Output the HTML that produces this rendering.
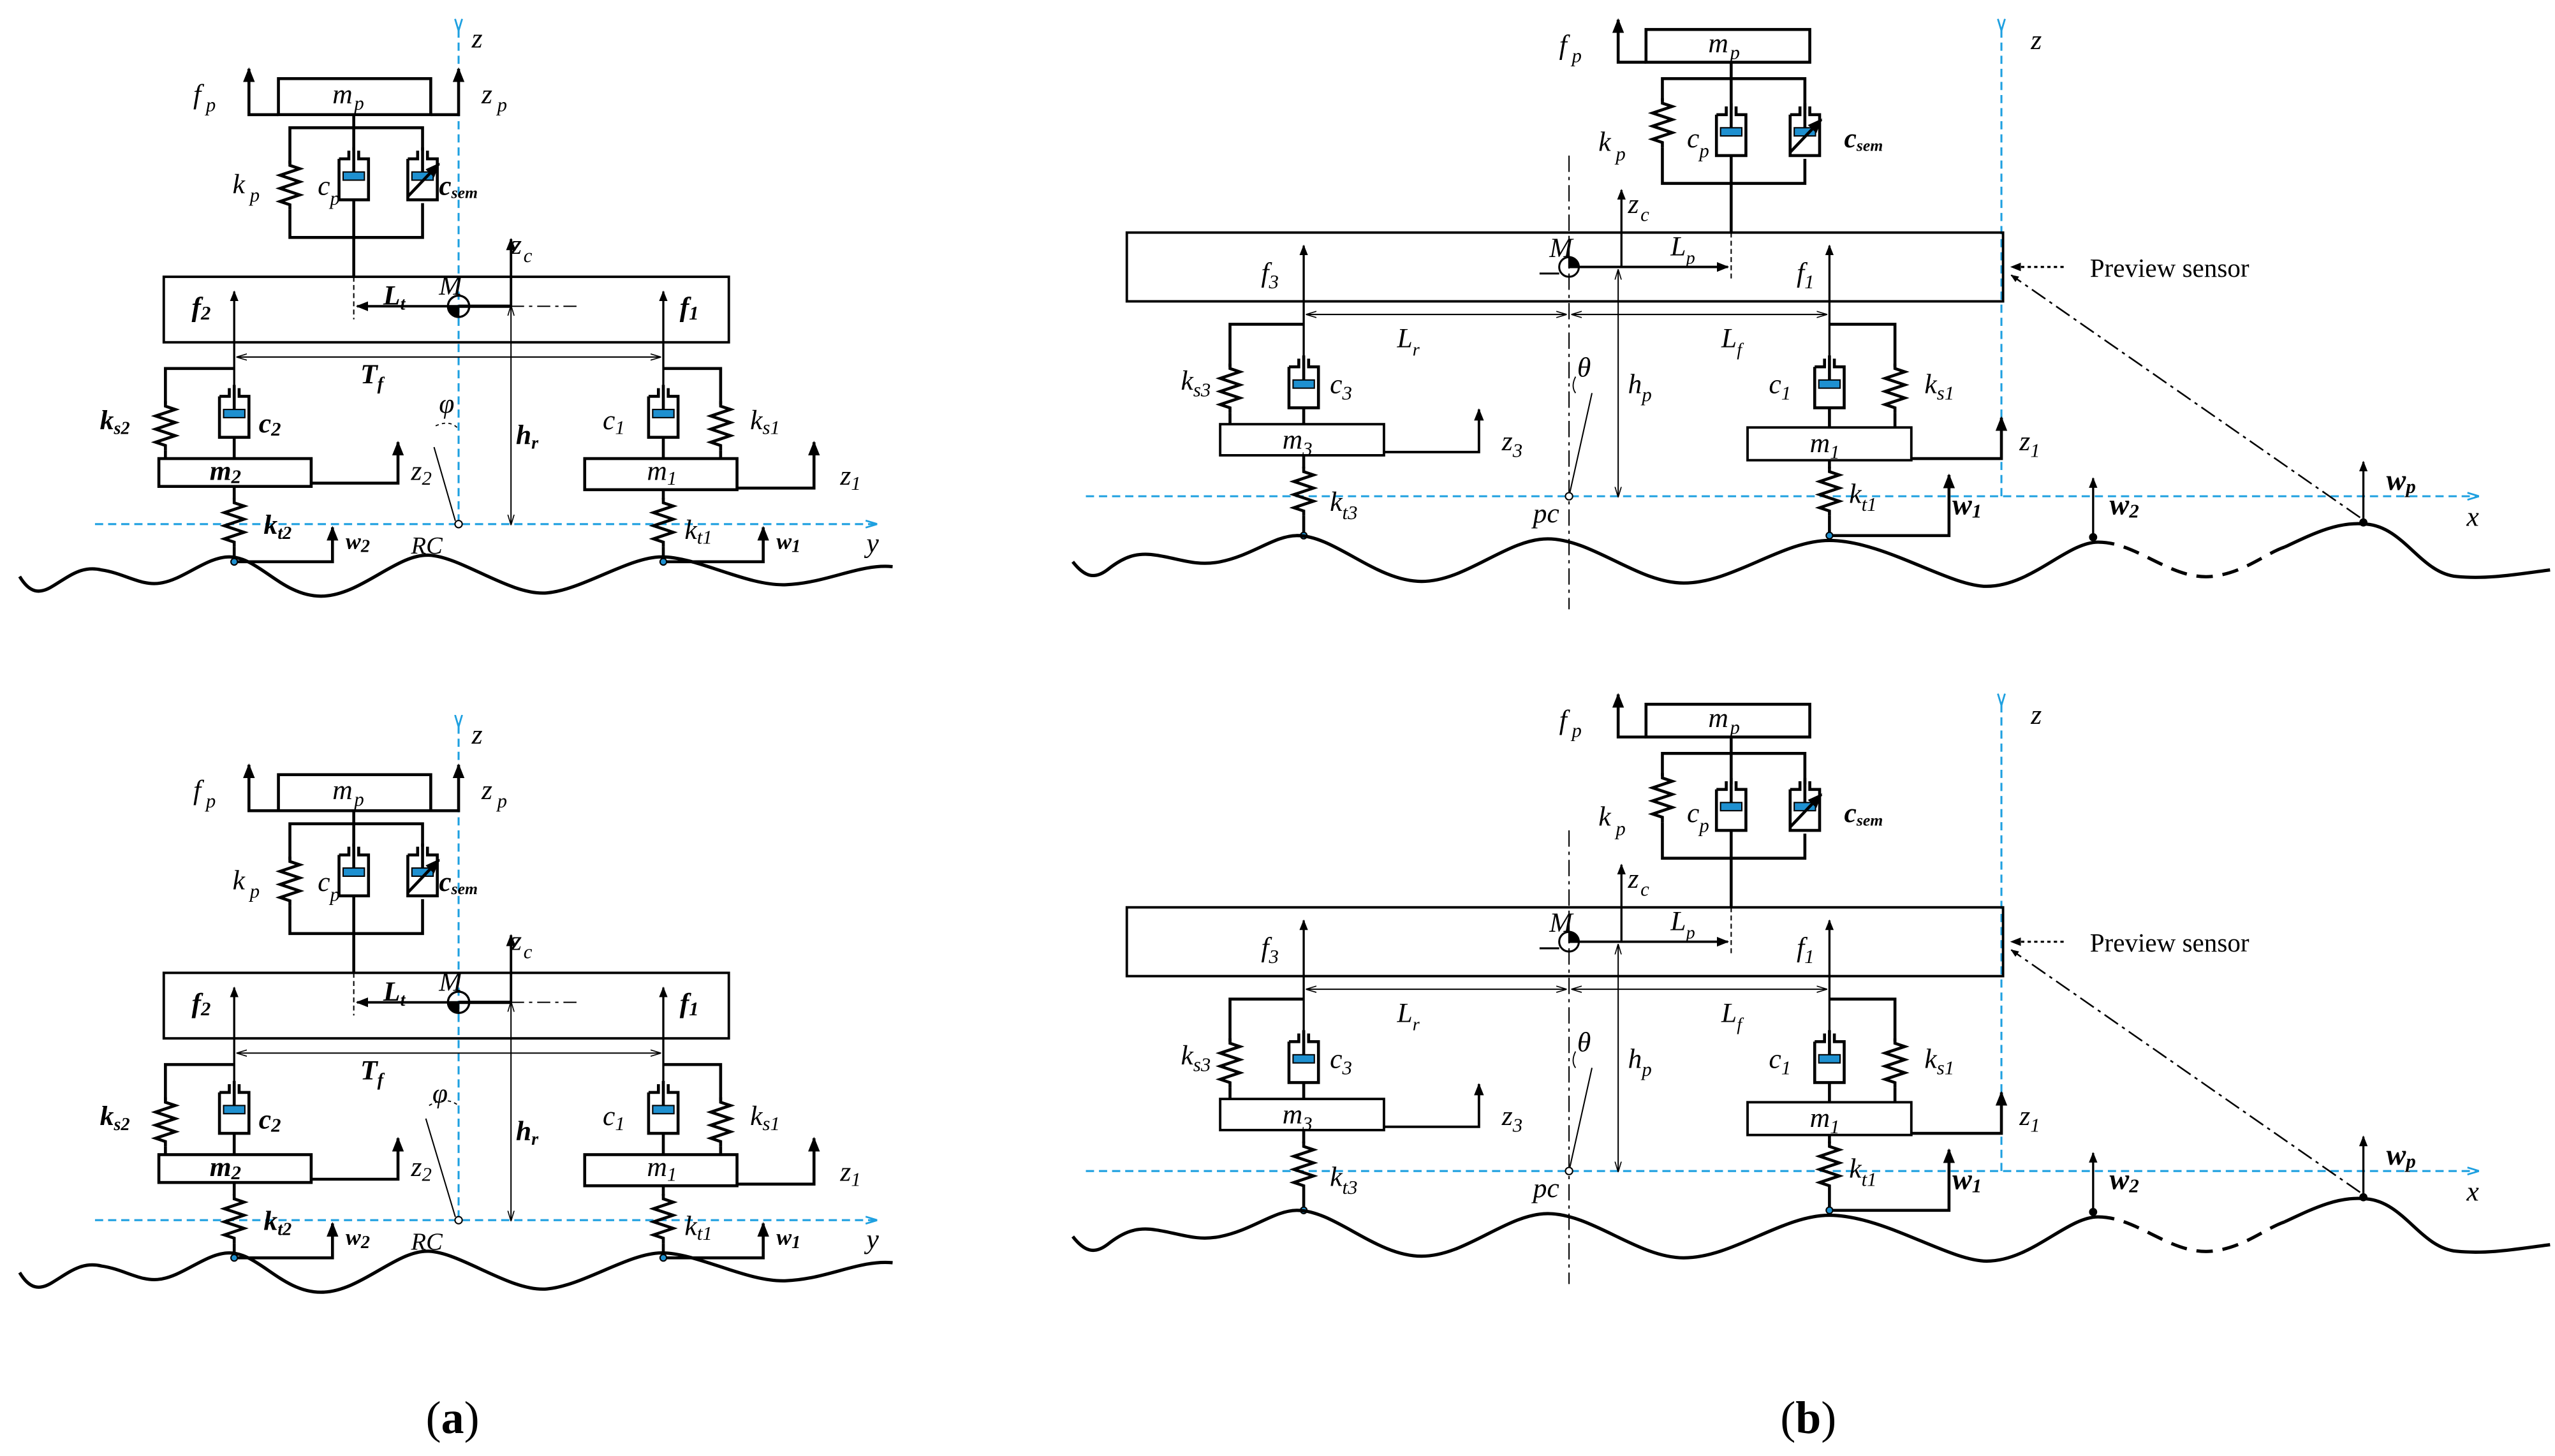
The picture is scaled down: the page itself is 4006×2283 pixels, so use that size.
<!DOCTYPE html>
<html><head><meta charset="utf-8"><style>
html,body{margin:0;padding:0;background:#fff}
svg{display:block}
text{font-family:"Liberation Serif",serif;font-style:italic;fill:#000}
.b{font-weight:bold}
</style></head><body>
<svg width="4006" height="2283" viewBox="0 0 1560 889" preserveAspectRatio="none" xmlns="http://www.w3.org/2000/svg">
<defs>
<marker id="ar" viewBox="0 0 10 10" refX="9" refY="5" markerWidth="5" markerHeight="5" orient="auto-start-reverse"><path d="M0,1 L10,5 L0,9 Z" fill="#000"/></marker>
<marker id="as" viewBox="0 0 10 10" refX="9" refY="5" markerWidth="8" markerHeight="8" orient="auto-start-reverse"><path d="M0,2 L10,5 L0,8" fill="none" stroke="#000" stroke-width="1"/></marker>
<marker id="ab" viewBox="0 0 10 10" refX="9" refY="5" markerWidth="6" markerHeight="6" orient="auto"><path d="M0,2 L10,5 L0,8" fill="none" stroke="#1ea0e0" stroke-width="1.5"/></marker>
<g id="spr"><path d="M0,0 L0,3 L6,5 L-6,9 L6,13 L-6,17 L6,21 L-6,25 L0,27 L0,30" fill="none" stroke="#000" stroke-width="1.8"/></g>
<g id="dmp"><path d="M-9,5 L-9,30 L9,30 L9,5 L3,5 L3,0 M-3,0 L-3,5 L-9,5" fill="none" stroke="#000" stroke-width="1.8"/><line x1="0" y1="-2" x2="0" y2="14" stroke="#000" stroke-width="1.8"/><rect x="-6.5" y="13" width="13" height="5" fill="#1e90d0" stroke="#000" stroke-width="0.8"/></g>
<g id="dms"><use href="#dmp"/><line x1="-9" y1="28" x2="10" y2="8" stroke="#000" stroke-width="1.8" marker-end="url(#ar)"/></g>
</defs>

<!-- LEFT PANEL -->
<g stroke="#000" fill="none">
<line x1="280" y1="18" x2="280" y2="320" stroke="#1ea0e0" stroke-width="1.2" stroke-dasharray="5,3" marker-start="url(#ab)"/>
<line x1="58" y1="320" x2="535" y2="320" stroke="#1ea0e0" stroke-width="1.2" stroke-dasharray="5,3" marker-end="url(#ab)"/>
<rect x="170" y="48" width="93" height="22" stroke-width="1.8"/>
<path d="M170,70 L152,70 L152,42" stroke-width="1.8" marker-end="url(#ar)"/>
<path d="M263,70 L280,70 L280,42" stroke-width="1.8" marker-end="url(#ar)"/>
<line x1="216" y1="70" x2="216" y2="92" stroke-width="1.8"/>
<path d="M177,100 L177,78 L258,78 L258,92" stroke-width="1.8"/>
<use href="#spr" x="177" y="98"/>
<path d="M177,128 L177,145 L258,145 L258,124" stroke-width="1.8"/>
<use href="#dmp" x="216" y="92"/>
<use href="#dms" x="258" y="92"/>
<line x1="216" y1="122" x2="216" y2="169" stroke-width="1.8"/>
<rect x="100" y="169" width="345" height="40" stroke-width="1.5"/>
<line x1="216" y1="169" x2="216" y2="195" stroke-width="0.8" stroke-dasharray="3,2"/>
<line x1="280" y1="187" x2="218" y2="187" stroke-width="1.5" marker-end="url(#ar)"/>
<line x1="280" y1="187" x2="312" y2="187" stroke-width="2"/>
<line x1="312" y1="187" x2="352" y2="187" stroke-width="0.8" stroke-dasharray="8,3,2,3"/>
<circle cx="280" cy="187" r="6.5" stroke-width="1.3"/>
<path d="M274,187 A6,6 0 0 0 280,193 L280,187 Z" fill="#000"/>
<line x1="312" y1="187" x2="312" y2="146" stroke-width="1.5" marker-end="url(#ar)"/>
<line x1="312" y1="187" x2="312" y2="320" stroke-width="0.8" marker-start="url(#as)" marker-end="url(#as)"/>
<line x1="143" y1="238" x2="143" y2="178" stroke-width="1.3" marker-end="url(#ar)"/>
<line x1="405" y1="238" x2="405" y2="178" stroke-width="1.3" marker-end="url(#ar)"/>
<line x1="145" y1="218" x2="403" y2="218" stroke-width="0.8" marker-start="url(#as)" marker-end="url(#as)"/>
<path d="M101,247 L101,225 L143,225" stroke-width="1.8"/>
<use href="#spr" x="101" y="245"/>
<line x1="101" y1="275" x2="101" y2="280" stroke-width="1.8"/>
<use href="#dmp" x="143" y="237"/>
<line x1="143" y1="267" x2="143" y2="280" stroke-width="1.8"/>
<rect x="97" y="280" width="93" height="17" stroke-width="1.8"/>
<path d="M190,295 L243,295 L243,270" stroke-width="1.8" marker-end="url(#ar)"/>
<line x1="143" y1="297" x2="143" y2="305" stroke-width="1.8"/>
<use href="#spr" x="143" y="304"/>
<path d="M143,334 L143,343 L203,343 L203,322" stroke-width="1.8" marker-end="url(#ar)"/>
<circle cx="143" cy="343" r="2" fill="#1e90d0" stroke-width="0.8"/>
<path d="M440,247 L440,225 L405,225" stroke-width="1.8"/>
<use href="#spr" x="440" y="245"/>
<line x1="440" y1="275" x2="440" y2="280" stroke-width="1.8"/>
<use href="#dmp" x="405" y="237"/>
<line x1="405" y1="267" x2="405" y2="280" stroke-width="1.8"/>
<rect x="357" y="280" width="93" height="19" stroke-width="1.8"/>
<path d="M450,298 L497,298 L497,270" stroke-width="1.8" marker-end="url(#ar)"/>
<line x1="405" y1="299" x2="405" y2="305" stroke-width="1.8"/>
<use href="#spr" x="405" y="304"/>
<path d="M405,334 L405,343 L466,343 L466,322" stroke-width="1.8" marker-end="url(#ar)"/>
<circle cx="405" cy="343" r="2" fill="#1e90d0" stroke-width="0.8"/>
<line x1="265" y1="273" x2="278" y2="318" stroke-width="0.8"/>
<path d="M266,260 Q275,256 280,262" stroke-width="0.7" stroke-dasharray="2,2"/>
<circle cx="280" cy="320" r="2.2" fill="#fff" stroke-width="0.8"/>
<path d="M12,352 C18,362 24,363 32,358 C42,352 50,345 62,348 C76,350 86,358 98,356 C112,354 126,340 140,340 C158,340 172,364 196,364 C220,364 242,338 262,339 C282,340 312,364 334,362 C356,360 384,340 404,340 C426,340 456,358 480,357 C505,356 525,344 545,346" stroke-width="2"/>
</g>
<g font-size="17">
<text x="288" y="29">z</text>
<text x="118" y="63">f<tspan font-size="12" dy="5" dx="3">p</tspan></text>
<text x="294" y="63">z<tspan font-size="12" dy="5" dx="3">p</tspan></text>
<text x="203" y="63">m<tspan font-size="12" dy="4" dx="1">p</tspan></text>
<text x="142" y="118">k<tspan font-size="12" dy="5" dx="3">p</tspan></text>
<text x="194" y="119">c<tspan font-size="12" dy="6" dx="0">p</tspan></text>
<text x="268" y="119" class="b">c<tspan font-size="10" dy="2">sem</tspan></text>
<text x="312" y="155">z<tspan font-size="12" dy="5" dx="1">c</tspan></text>
<text x="268" y="180">M</text>
<text x="234" y="186" class="b">L<tspan font-size="11" dy="3">t</tspan></text>
<text x="117" y="193" class="b">f<tspan font-size="12" dy="2">2</tspan></text>
<text x="415" y="193" class="b">f<tspan font-size="12" dy="2">1</tspan></text>
<text x="220" y="234" class="b">T<tspan font-size="11" dy="4">f</tspan></text>
<text x="268" y="252">φ</text>
<text x="315" y="271" class="b">h<tspan font-size="11" dy="3">r</tspan></text>
<text x="61" y="262" class="b">k<tspan font-size="11" dy="3">s2</tspan></text>
<text x="158" y="264" class="b">c<tspan font-size="12" dy="2">2</tspan></text>
<text x="128" y="293" class="b">m<tspan font-size="12" dy="2">2</tspan></text>
<text x="251" y="293">z<tspan font-size="12" dy="3">2</tspan></text>
<text x="161" y="326" class="b">k<tspan font-size="11" dy="3">t2</tspan></text>
<text x="211" y="335" class="b" font-size="14">w<tspan font-size="11" dy="2">2</tspan></text>
<text x="251" y="338" font-size="15">RC</text>
<text x="368" y="262">c<tspan font-size="12" dy="3">1</tspan></text>
<text x="458" y="262">k<tspan font-size="12" dy="3">s1</tspan></text>
<text x="395" y="293">m<tspan font-size="12" dy="3">1</tspan></text>
<text x="513" y="296">z<tspan font-size="12" dy="3">1</tspan></text>
<text x="418" y="329">k<tspan font-size="12" dy="3">t1</tspan></text>
<text x="474" y="335" class="b" font-size="14">w<tspan font-size="11" dy="2">1</tspan></text>
<text x="529" y="337">y</text>
</g>

<!-- LEFT BOTTOM COPY -->
<g transform="translate(0,425)">
<g stroke="#000" fill="none">
<line x1="280" y1="18" x2="280" y2="320" stroke="#1ea0e0" stroke-width="1.2" stroke-dasharray="5,3" marker-start="url(#ab)"/>
<line x1="58" y1="320" x2="535" y2="320" stroke="#1ea0e0" stroke-width="1.2" stroke-dasharray="5,3" marker-end="url(#ab)"/>
<rect x="170" y="48" width="93" height="22" stroke-width="1.8"/>
<path d="M170,70 L152,70 L152,42" stroke-width="1.8" marker-end="url(#ar)"/>
<path d="M263,70 L280,70 L280,42" stroke-width="1.8" marker-end="url(#ar)"/>
<line x1="216" y1="70" x2="216" y2="92" stroke-width="1.8"/>
<path d="M177,100 L177,78 L258,78 L258,92" stroke-width="1.8"/>
<use href="#spr" x="177" y="98"/>
<path d="M177,128 L177,145 L258,145 L258,124" stroke-width="1.8"/>
<use href="#dmp" x="216" y="92"/>
<use href="#dms" x="258" y="92"/>
<line x1="216" y1="122" x2="216" y2="169" stroke-width="1.8"/>
<rect x="100" y="169" width="345" height="40" stroke-width="1.5"/>
<line x1="216" y1="169" x2="216" y2="195" stroke-width="0.8" stroke-dasharray="3,2"/>
<line x1="280" y1="187" x2="218" y2="187" stroke-width="1.5" marker-end="url(#ar)"/>
<line x1="280" y1="187" x2="312" y2="187" stroke-width="2"/>
<line x1="312" y1="187" x2="352" y2="187" stroke-width="0.8" stroke-dasharray="8,3,2,3"/>
<circle cx="280" cy="187" r="6.5" stroke-width="1.3"/>
<path d="M274,187 A6,6 0 0 0 280,193 L280,187 Z" fill="#000"/>
<line x1="312" y1="187" x2="312" y2="146" stroke-width="1.5" marker-end="url(#ar)"/>
<line x1="312" y1="187" x2="312" y2="320" stroke-width="0.8" marker-start="url(#as)" marker-end="url(#as)"/>
<line x1="143" y1="238" x2="143" y2="178" stroke-width="1.3" marker-end="url(#ar)"/>
<line x1="405" y1="238" x2="405" y2="178" stroke-width="1.3" marker-end="url(#ar)"/>
<line x1="145" y1="218" x2="403" y2="218" stroke-width="0.8" marker-start="url(#as)" marker-end="url(#as)"/>
<path d="M101,247 L101,225 L143,225" stroke-width="1.8"/>
<use href="#spr" x="101" y="245"/>
<line x1="101" y1="275" x2="101" y2="280" stroke-width="1.8"/>
<use href="#dmp" x="143" y="237"/>
<line x1="143" y1="267" x2="143" y2="280" stroke-width="1.8"/>
<rect x="97" y="280" width="93" height="17" stroke-width="1.8"/>
<path d="M190,295 L243,295 L243,270" stroke-width="1.8" marker-end="url(#ar)"/>
<line x1="143" y1="297" x2="143" y2="305" stroke-width="1.8"/>
<use href="#spr" x="143" y="304"/>
<path d="M143,334 L143,343 L203,343 L203,322" stroke-width="1.8" marker-end="url(#ar)"/>
<circle cx="143" cy="343" r="2" fill="#1e90d0" stroke-width="0.8"/>
<path d="M440,247 L440,225 L405,225" stroke-width="1.8"/>
<use href="#spr" x="440" y="245"/>
<line x1="440" y1="275" x2="440" y2="280" stroke-width="1.8"/>
<use href="#dmp" x="405" y="237"/>
<line x1="405" y1="267" x2="405" y2="280" stroke-width="1.8"/>
<rect x="357" y="280" width="93" height="19" stroke-width="1.8"/>
<path d="M450,298 L497,298 L497,270" stroke-width="1.8" marker-end="url(#ar)"/>
<line x1="405" y1="299" x2="405" y2="305" stroke-width="1.8"/>
<use href="#spr" x="405" y="304"/>
<path d="M405,334 L405,343 L466,343 L466,322" stroke-width="1.8" marker-end="url(#ar)"/>
<circle cx="405" cy="343" r="2" fill="#1e90d0" stroke-width="0.8"/>
<line x1="260" y1="258" x2="278" y2="318" stroke-width="0.8"/>
<path d="M262,250 Q272,244 280,250" stroke-width="0.7" stroke-dasharray="2,2"/>
<circle cx="280" cy="320" r="2.2" fill="#fff" stroke-width="0.8"/>
<path d="M12,352 C18,362 24,363 32,358 C42,352 50,345 62,348 C76,350 86,358 98,356 C112,354 126,340 140,340 C158,340 172,364 196,364 C220,364 242,338 262,339 C282,340 312,364 334,362 C356,360 384,340 404,340 C426,340 456,358 480,357 C505,356 525,344 545,346" stroke-width="2"/>
</g>
<g font-size="17">
<text x="288" y="29">z</text>
<text x="118" y="63">f<tspan font-size="12" dy="5" dx="3">p</tspan></text>
<text x="294" y="63">z<tspan font-size="12" dy="5" dx="3">p</tspan></text>
<text x="203" y="63">m<tspan font-size="12" dy="4" dx="1">p</tspan></text>
<text x="142" y="118">k<tspan font-size="12" dy="5" dx="3">p</tspan></text>
<text x="194" y="119">c<tspan font-size="12" dy="6" dx="0">p</tspan></text>
<text x="268" y="119" class="b">c<tspan font-size="10" dy="2">sem</tspan></text>
<text x="312" y="155">z<tspan font-size="12" dy="5" dx="1">c</tspan></text>
<text x="268" y="180">M</text>
<text x="234" y="186" class="b">L<tspan font-size="11" dy="3">t</tspan></text>
<text x="117" y="193" class="b">f<tspan font-size="12" dy="2">2</tspan></text>
<text x="415" y="193" class="b">f<tspan font-size="12" dy="2">1</tspan></text>
<text x="220" y="234" class="b">T<tspan font-size="11" dy="4">f</tspan></text>
<text x="264" y="248">φ</text>
<text x="315" y="271" class="b">h<tspan font-size="11" dy="3">r</tspan></text>
<text x="61" y="262" class="b">k<tspan font-size="11" dy="3">s2</tspan></text>
<text x="158" y="264" class="b">c<tspan font-size="12" dy="2">2</tspan></text>
<text x="128" y="293" class="b">m<tspan font-size="12" dy="2">2</tspan></text>
<text x="251" y="293">z<tspan font-size="12" dy="3">2</tspan></text>
<text x="161" y="326" class="b">k<tspan font-size="11" dy="3">t2</tspan></text>
<text x="211" y="335" class="b" font-size="14">w<tspan font-size="11" dy="2">2</tspan></text>
<text x="251" y="338" font-size="15">RC</text>
<text x="368" y="262">c<tspan font-size="12" dy="3">1</tspan></text>
<text x="458" y="262">k<tspan font-size="12" dy="3">s1</tspan></text>
<text x="395" y="293">m<tspan font-size="12" dy="3">1</tspan></text>
<text x="513" y="296">z<tspan font-size="12" dy="3">1</tspan></text>
<text x="418" y="329">k<tspan font-size="12" dy="3">t1</tspan></text>
<text x="474" y="335" class="b" font-size="14">w<tspan font-size="11" dy="2">1</tspan></text>
<text x="529" y="337">y</text>
</g>
</g>

<!-- RIGHT PANEL TOP -->
<g>
<g stroke="#000" fill="none">
<line x1="1222" y1="18" x2="1222" y2="303" stroke="#1ea0e0" stroke-width="1.2" stroke-dasharray="5,3" marker-start="url(#ab)"/>
<line x1="663" y1="303" x2="1513" y2="303" stroke="#1ea0e0" stroke-width="1.2" stroke-dasharray="5,3" marker-end="url(#ab)"/>
<line x1="958" y1="95" x2="958" y2="372" stroke-width="0.8" stroke-dasharray="10,3,2,3"/>
<rect x="1005" y="18" width="100" height="20" stroke-width="1.8"/>
<path d="M1005,38 L988,38 L988,12" stroke-width="1.8" marker-end="url(#ar)"/>
<line x1="1057" y1="38" x2="1057" y2="67" stroke-width="1.8"/>
<path d="M1015,62 L1015,48 L1102,48 L1102,67" stroke-width="1.8"/>
<use href="#spr" x="1015" y="60"/>
<path d="M1015,90 L1015,112 L1102,112 L1102,97" stroke-width="1.8"/>
<use href="#dmp" x="1057" y="65"/>
<use href="#dms" x="1102" y="65"/>
<line x1="1057" y1="95" x2="1057" y2="142" stroke-width="1.8"/>
<rect x="688" y="142" width="535" height="42" stroke-width="1.5"/>
<line x1="1057" y1="142" x2="1057" y2="170" stroke-width="0.8" stroke-dasharray="3,2"/>
<line x1="958" y1="163" x2="1055" y2="163" stroke-width="1.5" marker-end="url(#ar)"/>
<circle cx="958" cy="163" r="6" stroke-width="1.2"/>
<path d="M958,157 A6,6 0 0 1 964,163 L958,163 Z" fill="#000"/>
<line x1="940" y1="167" x2="952" y2="167" stroke-width="1.2"/>
<line x1="990" y1="163" x2="990" y2="116" stroke-width="1.3" marker-end="url(#ar)"/>
<line x1="988" y1="165" x2="988" y2="303" stroke-width="0.8" marker-start="url(#as)" marker-end="url(#as)"/>
<line x1="796" y1="220" x2="796" y2="150" stroke-width="1.3" marker-end="url(#ar)"/>
<line x1="1117" y1="220" x2="1117" y2="150" stroke-width="1.3" marker-end="url(#ar)"/>
<line x1="798" y1="192" x2="956" y2="192" stroke-width="0.8" marker-start="url(#as)" marker-end="url(#as)"/>
<line x1="960" y1="192" x2="1115" y2="192" stroke-width="0.8" marker-start="url(#as)" marker-end="url(#as)"/>
<path d="M751,224 L751,198 L796,198" stroke-width="1.8"/>
<use href="#spr" x="751" y="222"/>
<line x1="751" y1="252" x2="751" y2="259" stroke-width="1.8"/>
<use href="#dmp" x="796" y="219"/>
<line x1="796" y1="249" x2="796" y2="259" stroke-width="1.8"/>
<rect x="745" y="259" width="100" height="19" stroke-width="1.5"/>
<path d="M845,276 L903,276 L903,250" stroke-width="1.5" marker-end="url(#ar)"/>
<line x1="796" y1="278" x2="796" y2="286" stroke-width="1.8"/>
<use href="#spr" x="796" y="285"/>
<line x1="796" y1="315" x2="796" y2="327" stroke-width="1.8"/>
<circle cx="796" cy="327" r="2" fill="#1e90d0" stroke-width="0.8"/>
<path d="M1157,224 L1157,198 L1117,198" stroke-width="1.8"/>
<use href="#spr" x="1157" y="222"/>
<line x1="1157" y1="252" x2="1157" y2="261" stroke-width="1.8"/>
<use href="#dmp" x="1117" y="219"/>
<line x1="1117" y1="249" x2="1117" y2="261" stroke-width="1.8"/>
<rect x="1067" y="261" width="100" height="20" stroke-width="1.5"/>
<path d="M1167,280 L1222,280 L1222,255" stroke-width="1.8" marker-end="url(#ar)"/>
<line x1="1117" y1="281" x2="1117" y2="286" stroke-width="1.8"/>
<use href="#spr" x="1117" y="285"/>
<path d="M1117,315 L1117,327 L1190,327 L1190,290" stroke-width="1.8" marker-end="url(#ar)"/>
<circle cx="1117" cy="327" r="2" fill="#1e90d0" stroke-width="0.8"/>
<line x1="1278" y1="327" x2="1278" y2="292" stroke-width="1.3" marker-end="url(#ar)"/>
<circle cx="1278" cy="328" r="2" fill="#000"/>
<line x1="1443" y1="318" x2="1443" y2="282" stroke-width="1.3" marker-end="url(#ar)"/>
<circle cx="1443" cy="319" r="2" fill="#000"/>
<line x1="958" y1="303" x2="972" y2="240" stroke-width="0.8"/>
<path d="M962,230 Q959,236 962,240" stroke-width="0.7"/>
<circle cx="958" cy="303" r="2.2" fill="#fff" stroke-width="0.8"/>
<line x1="1260" y1="163" x2="1228" y2="163" stroke-width="1.3" stroke-dasharray="2,2" marker-end="url(#ar)"/>
<line x1="1441" y1="316" x2="1228" y2="168" stroke-width="1" stroke-dasharray="10,3,2,3" marker-end="url(#ar)"/>
<path d="M655,343 C662,352 668,354 676,348 C686,340 694,337 706,339 C720,341 730,346 745,343 C765,339 778,327 792,327 C815,327 840,355 868,355 C895,355 920,329 945,329 C972,329 1000,356 1028,356 C1058,356 1088,330 1117,330 C1150,330 1190,358 1213,358 C1240,358 1262,331 1281,331" stroke-width="2"/>
<path d="M1281,331 C1305,331 1325,354 1350,352 C1370,350 1383,338 1395,334" stroke-width="2" stroke-dasharray="10,6"/>
<path d="M1395,334 C1412,326 1428,318 1445,320 C1468,322 1478,350 1500,352 C1520,354 1540,350 1557,348" stroke-width="2"/>
</g>
<g font-size="17">
<text x="1240" y="30">z</text>
<text x="952" y="33">f<tspan font-size="12" dy="5" dx="3">p</tspan></text>
<text x="1043" y="32">m<tspan font-size="12" dy="4" dx="1">p</tspan></text>
<text x="976" y="92">k<tspan font-size="12" dy="6" dx="3">p</tspan></text>
<text x="1030" y="90">c<tspan font-size="12" dy="6" dx="0">p</tspan></text>
<text x="1126" y="90" class="b">c<tspan font-size="10" dy="2">sem</tspan></text>
<text x="994" y="130">z<tspan font-size="12" dy="5" dx="1">c</tspan></text>
<text x="946" y="157">M</text>
<text x="1020" y="156">L<tspan font-size="11" dy="5">p</tspan></text>
<text x="770" y="172">f<tspan font-size="12" dy="4">3</tspan></text>
<text x="1097" y="172">f<tspan font-size="12" dy="4">1</tspan></text>
<text x="853" y="212">L<tspan font-size="11" dy="5">r</tspan></text>
<text x="1051" y="212">L<tspan font-size="11" dy="5">f</tspan></text>
<text x="963" y="230">θ</text>
<text x="994" y="240">h<tspan font-size="12" dy="5">p</tspan></text>
<text x="721" y="238">k<tspan font-size="12" dy="4">s3</tspan></text>
<text x="812" y="240">c<tspan font-size="12" dy="4">3</tspan></text>
<text x="783" y="274">m<tspan font-size="12" dy="4">3</tspan></text>
<text x="917" y="275">z<tspan font-size="12" dy="4">3</tspan></text>
<text x="812" y="312">k<tspan font-size="12" dy="5">t3</tspan></text>
<text x="936" y="319">pc</text>
<text x="1080" y="240">c<tspan font-size="12" dy="4">1</tspan></text>
<text x="1175" y="240">k<tspan font-size="12" dy="4">s1</tspan></text>
<text x="1105" y="276">m<tspan font-size="12" dy="4">1</tspan></text>
<text x="1233" y="275">z<tspan font-size="12" dy="4">1</tspan></text>
<text x="1129" y="307">k<tspan font-size="12" dy="5">t1</tspan></text>
<text x="1192" y="314" class="b" font-size="18">w<tspan font-size="12" dy="2">1</tspan></text>
<text x="1288" y="314" class="b" font-size="18">w<tspan font-size="12" dy="2">2</tspan></text>
<text x="1457" y="299" class="b" font-size="18">w<tspan font-size="12" dy="2">p</tspan></text>
<text x="1506" y="321">x</text>
<text x="1276" y="169" style="font-style:normal" font-size="16">Preview sensor</text>
</g>
</g>

<!-- RIGHT PANEL BOTTOM -->
<g transform="translate(0,412)">
<g stroke="#000" fill="none">
<line x1="1222" y1="18" x2="1222" y2="303" stroke="#1ea0e0" stroke-width="1.2" stroke-dasharray="5,3" marker-start="url(#ab)"/>
<line x1="663" y1="303" x2="1513" y2="303" stroke="#1ea0e0" stroke-width="1.2" stroke-dasharray="5,3" marker-end="url(#ab)"/>
<line x1="958" y1="95" x2="958" y2="372" stroke-width="0.8" stroke-dasharray="10,3,2,3"/>
<rect x="1005" y="18" width="100" height="20" stroke-width="1.8"/>
<path d="M1005,38 L988,38 L988,12" stroke-width="1.8" marker-end="url(#ar)"/>
<line x1="1057" y1="38" x2="1057" y2="67" stroke-width="1.8"/>
<path d="M1015,62 L1015,48 L1102,48 L1102,67" stroke-width="1.8"/>
<use href="#spr" x="1015" y="60"/>
<path d="M1015,90 L1015,112 L1102,112 L1102,97" stroke-width="1.8"/>
<use href="#dmp" x="1057" y="65"/>
<use href="#dms" x="1102" y="65"/>
<line x1="1057" y1="95" x2="1057" y2="142" stroke-width="1.8"/>
<rect x="688" y="142" width="535" height="42" stroke-width="1.5"/>
<line x1="1057" y1="142" x2="1057" y2="170" stroke-width="0.8" stroke-dasharray="3,2"/>
<line x1="958" y1="163" x2="1055" y2="163" stroke-width="1.5" marker-end="url(#ar)"/>
<circle cx="958" cy="163" r="6" stroke-width="1.2"/>
<path d="M958,157 A6,6 0 0 1 964,163 L958,163 Z" fill="#000"/>
<line x1="940" y1="167" x2="952" y2="167" stroke-width="1.2"/>
<line x1="990" y1="163" x2="990" y2="116" stroke-width="1.3" marker-end="url(#ar)"/>
<line x1="988" y1="165" x2="988" y2="303" stroke-width="0.8" marker-start="url(#as)" marker-end="url(#as)"/>
<line x1="796" y1="220" x2="796" y2="150" stroke-width="1.3" marker-end="url(#ar)"/>
<line x1="1117" y1="220" x2="1117" y2="150" stroke-width="1.3" marker-end="url(#ar)"/>
<line x1="798" y1="192" x2="956" y2="192" stroke-width="0.8" marker-start="url(#as)" marker-end="url(#as)"/>
<line x1="960" y1="192" x2="1115" y2="192" stroke-width="0.8" marker-start="url(#as)" marker-end="url(#as)"/>
<path d="M751,224 L751,198 L796,198" stroke-width="1.8"/>
<use href="#spr" x="751" y="222"/>
<line x1="751" y1="252" x2="751" y2="259" stroke-width="1.8"/>
<use href="#dmp" x="796" y="219"/>
<line x1="796" y1="249" x2="796" y2="259" stroke-width="1.8"/>
<rect x="745" y="259" width="100" height="19" stroke-width="1.5"/>
<path d="M845,276 L903,276 L903,250" stroke-width="1.5" marker-end="url(#ar)"/>
<line x1="796" y1="278" x2="796" y2="286" stroke-width="1.8"/>
<use href="#spr" x="796" y="285"/>
<line x1="796" y1="315" x2="796" y2="327" stroke-width="1.8"/>
<circle cx="796" cy="327" r="2" fill="#1e90d0" stroke-width="0.8"/>
<path d="M1157,224 L1157,198 L1117,198" stroke-width="1.8"/>
<use href="#spr" x="1157" y="222"/>
<line x1="1157" y1="252" x2="1157" y2="261" stroke-width="1.8"/>
<use href="#dmp" x="1117" y="219"/>
<line x1="1117" y1="249" x2="1117" y2="261" stroke-width="1.8"/>
<rect x="1067" y="261" width="100" height="20" stroke-width="1.5"/>
<path d="M1167,280 L1222,280 L1222,255" stroke-width="1.8" marker-end="url(#ar)"/>
<line x1="1117" y1="281" x2="1117" y2="286" stroke-width="1.8"/>
<use href="#spr" x="1117" y="285"/>
<path d="M1117,315 L1117,327 L1190,327 L1190,290" stroke-width="1.8" marker-end="url(#ar)"/>
<circle cx="1117" cy="327" r="2" fill="#1e90d0" stroke-width="0.8"/>
<line x1="1278" y1="327" x2="1278" y2="292" stroke-width="1.3" marker-end="url(#ar)"/>
<circle cx="1278" cy="328" r="2" fill="#000"/>
<line x1="1443" y1="318" x2="1443" y2="282" stroke-width="1.3" marker-end="url(#ar)"/>
<circle cx="1443" cy="319" r="2" fill="#000"/>
<line x1="958" y1="303" x2="972" y2="240" stroke-width="0.8"/>
<path d="M962,230 Q959,236 962,240" stroke-width="0.7"/>
<circle cx="958" cy="303" r="2.2" fill="#fff" stroke-width="0.8"/>
<line x1="1260" y1="163" x2="1228" y2="163" stroke-width="1.3" stroke-dasharray="2,2" marker-end="url(#ar)"/>
<line x1="1441" y1="316" x2="1228" y2="168" stroke-width="1" stroke-dasharray="10,3,2,3" marker-end="url(#ar)"/>
<path d="M655,343 C662,352 668,354 676,348 C686,340 694,337 706,339 C720,341 730,346 745,343 C765,339 778,327 792,327 C815,327 840,355 868,355 C895,355 920,329 945,329 C972,329 1000,356 1028,356 C1058,356 1088,330 1117,330 C1150,330 1190,358 1213,358 C1240,358 1262,331 1281,331" stroke-width="2"/>
<path d="M1281,331 C1305,331 1325,354 1350,352 C1370,350 1383,338 1395,334" stroke-width="2" stroke-dasharray="10,6"/>
<path d="M1395,334 C1412,326 1428,318 1445,320 C1468,322 1478,350 1500,352 C1520,354 1540,350 1557,348" stroke-width="2"/>
</g>
<g font-size="17">
<text x="1240" y="30">z</text>
<text x="952" y="33">f<tspan font-size="12" dy="5" dx="3">p</tspan></text>
<text x="1043" y="32">m<tspan font-size="12" dy="4" dx="1">p</tspan></text>
<text x="976" y="92">k<tspan font-size="12" dy="6" dx="3">p</tspan></text>
<text x="1030" y="90">c<tspan font-size="12" dy="6" dx="0">p</tspan></text>
<text x="1126" y="90" class="b">c<tspan font-size="10" dy="2">sem</tspan></text>
<text x="994" y="130">z<tspan font-size="12" dy="5" dx="1">c</tspan></text>
<text x="946" y="157">M</text>
<text x="1020" y="156">L<tspan font-size="11" dy="5">p</tspan></text>
<text x="770" y="172">f<tspan font-size="12" dy="4">3</tspan></text>
<text x="1097" y="172">f<tspan font-size="12" dy="4">1</tspan></text>
<text x="853" y="212">L<tspan font-size="11" dy="5">r</tspan></text>
<text x="1051" y="212">L<tspan font-size="11" dy="5">f</tspan></text>
<text x="963" y="230">θ</text>
<text x="994" y="240">h<tspan font-size="12" dy="5">p</tspan></text>
<text x="721" y="238">k<tspan font-size="12" dy="4">s3</tspan></text>
<text x="812" y="240">c<tspan font-size="12" dy="4">3</tspan></text>
<text x="783" y="274">m<tspan font-size="12" dy="4">3</tspan></text>
<text x="917" y="275">z<tspan font-size="12" dy="4">3</tspan></text>
<text x="812" y="312">k<tspan font-size="12" dy="5">t3</tspan></text>
<text x="936" y="319">pc</text>
<text x="1080" y="240">c<tspan font-size="12" dy="4">1</tspan></text>
<text x="1175" y="240">k<tspan font-size="12" dy="4">s1</tspan></text>
<text x="1105" y="276">m<tspan font-size="12" dy="4">1</tspan></text>
<text x="1233" y="275">z<tspan font-size="12" dy="4">1</tspan></text>
<text x="1129" y="307">k<tspan font-size="12" dy="5">t1</tspan></text>
<text x="1192" y="314" class="b" font-size="18">w<tspan font-size="12" dy="2">1</tspan></text>
<text x="1288" y="314" class="b" font-size="18">w<tspan font-size="12" dy="2">2</tspan></text>
<text x="1457" y="299" class="b" font-size="18">w<tspan font-size="12" dy="2">p</tspan></text>
<text x="1506" y="321">x</text>
<text x="1276" y="169" style="font-style:normal" font-size="16">Preview sensor</text>
</g>
</g>

<text x="260" y="875" font-size="28" style="font-style:normal">(<tspan font-weight="bold">a</tspan>)</text>
<text x="1087" y="875" font-size="28" style="font-style:normal">(<tspan font-weight="bold">b</tspan>)</text>
</svg>
</body></html>
